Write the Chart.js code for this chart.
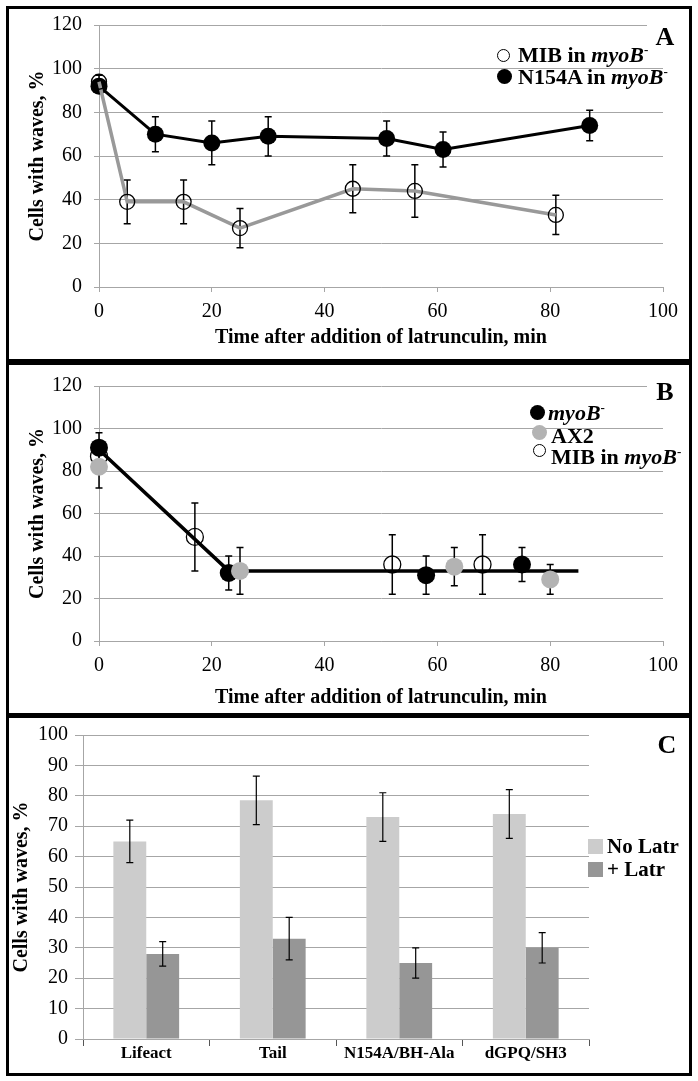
<!DOCTYPE html>
<html>
<head>
<meta charset="utf-8">
<script src="https://cdn.jsdelivr.net/npm/chart.js@4.4.1/dist/chart.umd.min.js"></script>
<style>
  body { margin: 0; background: #fff; width: 698px; height: 1081px; position: relative; overflow: hidden;
         font-family: "Liberation Serif", "Times New Roman", serif; }
  canvas { position: absolute; left: 0; }
  .panel { position: absolute; left: 6px; width: 686px; border: 3px solid #000; box-sizing: border-box; z-index: 2; }
  .txt { position: absolute; font-weight: bold; font-size: 22px; line-height: 22px; white-space: nowrap; z-index: 3; }
  .dot { position: absolute; border-radius: 50%; box-sizing: border-box; z-index: 3; }
  .sq { position: absolute; z-index: 3; }
  .letter { position: absolute; font-weight: bold; font-size: 26px; line-height: 26px; text-align: center;
            background: #fff; width: 36px; z-index: 3; }
  sup { font-size: 13px; line-height: 0; vertical-align: 8px; }
</style>
</head>
<body>

<canvas id="chartA" width="698" height="360" style="top:0px"></canvas>
<canvas id="chartB" width="698" height="350" style="top:362px"></canvas>
<canvas id="chartC" width="698" height="360" style="top:716px"></canvas>

<div class="panel" style="top:6px;height:356px"></div>
<div class="panel" style="top:362px;height:354px"></div>
<div class="panel" style="top:715px;height:361px"></div>

<!-- panel A legend -->
<div class="letter" style="left:647px;top:24px">A</div>
<div class="dot" style="left:497px;top:49px;width:13px;height:13px;border:1.5px solid #000"></div>
<div class="txt" style="left:518px;top:44px">MIB in <i>myoB</i><sup>-</sup></div>
<div class="dot" style="left:497px;top:69px;width:15px;height:15px;background:#000"></div>
<div class="txt" style="left:518px;top:66px">N154A in <i>myoB</i><sup>-</sup></div>

<!-- panel B legend -->
<div class="letter" style="left:647px;top:379px">B</div>
<div class="dot" style="left:530px;top:405px;width:15px;height:15px;background:#000"></div>
<div class="txt" style="left:548px;top:402px"><i>myoB</i><sup>-</sup></div>
<div class="dot" style="left:532px;top:425px;width:15px;height:15px;background:#b3b3b3"></div>
<div class="txt" style="left:551px;top:425px">AX2</div>
<div class="dot" style="left:533px;top:444px;width:13px;height:13px;border:1.5px solid #000"></div>
<div class="txt" style="left:551px;top:446px">MIB in <i>myoB</i><sup>-</sup></div>

<!-- panel C legend -->
<div class="letter" style="left:649px;top:732px">C</div>
<div class="sq" style="left:588px;top:839px;width:15px;height:15px;background:#cccccc"></div>
<div class="txt" style="left:607px;top:835px;font-size:21px">No Latr</div>
<div class="sq" style="left:588px;top:862px;width:15px;height:15px;background:#969696"></div>
<div class="txt" style="left:607px;top:858px;font-size:21px">+ Latr</div>

<script>
// ---- panel A: latrunculin time course ----
const aMibTime = [0, 5, 15, 25, 45, 56, 81];
const aMibWaves = [94, 39, 39, 27, 45, 44, 33];
const aMibErr = [3, 10, 10, 9, 11, 12, 9];
const aN154Time = [0, 10, 20, 30, 51, 61, 87];
const aN154Waves = [92, 70, 66, 69, 68, 63, 74];
const aN154Err = [2, 8, 10, 9, 8, 8, 7];

// ---- panel B ----
const bMyoTime = [0, 23, 58, 75];
const bMyoWaves = [91, 32, 31, 36];
const bMyoErr = [7, 8, 9, 8];
const bAx2Time = [0, 25, 63, 80];
const bAx2Waves = [82, 33, 35, 29];
const bAx2Err = [10, 11, 9, 7];
const bMibTime = [0, 17, 52, 68];
const bMibWaves = [87, 49, 36, 36];
const bMibErr = [0, 16, 14, 14];
const bFitTime = [0, 23, 85];
const bFitWaves = [90, 33, 33];

// ---- panel C ----
const cGroups = ['Lifeact', 'Tail', 'N154A/BH-Ala', 'dGPQ/SH3'];
const cNoLatr = [65, 78.5, 73, 74];
const cNoLatrErr = [7, 8, 8, 8];
const cLatr = [28, 33, 25, 30];
const cLatrErr = [4, 7, 5, 5];

const timeTicks = [0, 20, 40, 60, 80, 100];

const serif = '"Liberation Serif", "Times New Roman", serif';
const gridGrey = '#a6a6a6';

function pts(xs, ys) {
    return xs.map((x, i) => ({x: x, y: ys[i]}));
}

// draws vertical error bars from the dataset's errorBars array
function drawErr(chart, opts) {
    const ctx = chart.ctx;
    const yScale = chart.scales.y;
    chart.data.datasets.forEach((ds, i) => {
        if (!ds.errorBars) return;
        const meta = chart.getDatasetMeta(i);
        meta.data.forEach((el, j) => {
            const e = ds.errorBars[j];
            if (!e) return;
            const d = ds.data[j];
            const v = (typeof d === 'object') ? d.y : d;
            const top = yScale.getPixelForValue(v + e);
            const bot = yScale.getPixelForValue(v - e);
            const cap = opts.cap || 3.5;
            ctx.save();
            ctx.strokeStyle = '#000';
            ctx.lineWidth = opts.width || 1.5;
            ctx.beginPath();
            ctx.moveTo(el.x, top); ctx.lineTo(el.x, bot);
            ctx.moveTo(el.x - cap, top); ctx.lineTo(el.x + cap, top);
            ctx.moveTo(el.x - cap, bot); ctx.lineTo(el.x + cap, bot);
            ctx.stroke();
            ctx.restore();
        });
    });
}
const errorBars = {
    id: 'errorBars',
    beforeDatasetsDraw(chart, args, opts) { if (!opts.front) drawErr(chart, opts); },
    afterDatasetsDraw(chart, args, opts) { if (opts.front) drawErr(chart, opts); }
};

function timeOptions(topPad, xHeight, xTitlePad) {
    return {
        responsive: false,
        animation: false,
        devicePixelRatio: 1,
        events: [],
        layout: {padding: {left: 0, top: topPad, right: 35, bottom: 0}},
        plugins: {
            legend: {display: false},
            tooltip: {enabled: false},
            errorBars: {front: false, cap: 3.5, width: 1.5}
        },
        scales: {
            x: {
                type: 'linear', min: 0, max: 100,
                afterBuildTicks: s => { s.ticks = timeTicks.map(v => ({value: v})); },
                ticks: {color: '#000', font: {family: serif, size: 20}, padding: 8},
                grid: {drawOnChartArea: false, color: gridGrey, tickLength: 5},
                border: {color: gridGrey},
                title: {display: true, text: 'Time after addition of latrunculin, min', color: '#000',
                        font: {family: serif, size: 20, weight: 'bold'}, padding: {top: 0, bottom: xTitlePad}},
                afterFit: s => { s.height = xHeight; }
            },
            y: {
                min: 0, max: 120,
                ticks: {stepSize: 20, color: '#000', font: {family: serif, size: 20}, padding: 12},
                grid: {color: gridGrey, tickLength: 5},
                border: {color: gridGrey},
                title: {display: true, text: 'Cells with waves, %', color: '#000',
                        font: {family: serif, size: 20, weight: 'bold'}, padding: {top: 26, bottom: 0}},
                afterFit: s => { s.width = 99; }
            }
        }
    };
}

// A
new Chart(document.getElementById('chartA'), {
    type: 'line',
    data: {
        datasets: [{
            label: 'MIB in myoB-',
            data: pts(aMibTime, aMibWaves),
            errorBars: aMibErr,
            borderColor: '#999999', borderWidth: 3.5,
            pointRadius: 7.5, pointBorderWidth: 1.3,
            pointBorderColor: '#000', pointBackgroundColor: 'rgba(0,0,0,0)',
            tension: 0, clip: false, order: 0
        }, {
            label: 'N154A in myoB-',
            data: pts(aN154Time, aN154Waves),
            errorBars: aN154Err,
            borderColor: '#000', borderWidth: 3,
            pointRadius: 8.5, pointBorderWidth: 0,
            pointBackgroundColor: '#000',
            tension: 0, clip: false, order: 1
        }]
    },
    options: timeOptions(25, 73, 10),
    plugins: [errorBars]
});

// B
new Chart(document.getElementById('chartB'), {
    type: 'line',
    data: {
        datasets: [{
            label: 'fit',
            data: pts(bFitTime, bFitWaves),
            borderColor: '#000', borderWidth: 3.5,
            pointRadius: 0, tension: 0, clip: false, order: 4
        }, {
            label: 'MIB in myoB-',
            data: pts(bMibTime, bMibWaves),
            errorBars: bMibErr,
            showLine: false,
            pointRadius: 8.5, pointBorderWidth: 1.3,
            pointBorderColor: '#000', pointBackgroundColor: 'rgba(0,0,0,0)',
            clip: false, order: 3
        }, {
            label: 'myoB-',
            data: pts(bMyoTime, bMyoWaves),
            errorBars: bMyoErr,
            showLine: false,
            pointRadius: 9, pointBorderWidth: 0,
            pointBackgroundColor: '#000',
            clip: false, order: 2
        }, {
            label: 'AX2',
            data: pts(bAx2Time, bAx2Waves),
            errorBars: bAx2Err,
            showLine: false,
            pointRadius: 9, pointBorderWidth: 0,
            pointBackgroundColor: '#b3b3b3',
            clip: false, order: 1
        }]
    },
    options: timeOptions(18, 71, 2),
    plugins: [errorBars]
});

// C
new Chart(document.getElementById('chartC'), {
    type: 'bar',
    data: {
        labels: cGroups,
        datasets: [{
            label: 'No Latr',
            data: cNoLatr,
            errorBars: cNoLatrErr,
            backgroundColor: '#cccccc',
            barPercentage: 1, categoryPercentage: 0.52
        }, {
            label: '+ Latr',
            data: cLatr,
            errorBars: cLatrErr,
            backgroundColor: '#969696',
            barPercentage: 1, categoryPercentage: 0.52
        }]
    },
    options: {
        responsive: false,
        animation: false,
        devicePixelRatio: 1,
        events: [],
        layout: {padding: {left: 0, top: 17, right: 109, bottom: 0}},
        plugins: {
            legend: {display: false},
            tooltip: {enabled: false},
            errorBars: {front: true, cap: 3.5, width: 1.2}
        },
        scales: {
            x: {
                ticks: {color: '#000', font: {family: serif, size: 17, weight: 'bold', lineHeight: 1}, padding: -1},
                grid: {drawOnChartArea: false, color: '#555', tickLength: 7, offset: true},
                border: {color: gridGrey},
                afterFit: s => { s.height = 37; }
            },
            y: {
                min: 0, max: 100,
                ticks: {stepSize: 10, color: '#000', font: {family: serif, size: 20}, padding: 7},
                grid: {color: gridGrey, tickLength: 8},
                border: {color: gridGrey},
                title: {display: true, text: 'Cells with waves, %', color: '#000',
                        font: {family: serif, size: 20, weight: 'bold'}, padding: {top: 10, bottom: 0}},
                afterFit: s => { s.width = 83; }
            }
        }
    },
    plugins: [errorBars]
});
</script>
</body>
</html>
